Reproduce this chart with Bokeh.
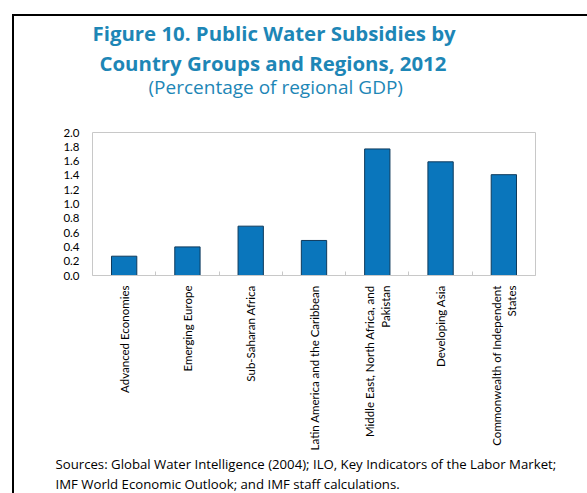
from bokeh.plotting import figure
from bokeh.models import Range1d, FixedTicker, Title, ColumnDataSource
from bokeh.embed import file_html
from bokeh.resources import INLINE
import math

categories = ["Advanced Economies", "Emerging Europe", "Sub-Saharan Africa",
              "Latin America and the Caribbean", "Middle East, North Africa, and\nPakistan",
              "Developing Asia", "Commonwealth of Independent\nStates"]
values = [0.27, 0.40, 0.69, 0.49, 1.77, 1.59, 1.41]
y_ticks = [0.0, 0.2, 0.4, 0.6, 0.8, 1.0, 1.2, 1.4, 1.6, 1.8, 2.0]

title1 = "Figure 10. Public Water Subsidies by"
title2 = "Country Groups and Regions, 2012"
subtitle = "(Percentage of regional GDP)"
source1 = "Sources: Global Water Intelligence (2004); ILO, Key Indicators of the Labor Market;"
source2 = "IMF World Economic Outlook; and IMF staff calculations."

W, H = 587, 493
n = len(categories)
xs = [i + 0.5 for i in range(n)]

border_css = """
:host { position: relative; }
:host::after { content: ""; position: absolute; left: 12px; top: 14px;
  width: 600px; height: 500px; border-left: 2.5px solid black; border-top: 2.5px solid black;
  z-index: 100; pointer-events: none; box-sizing: border-box; }
"""

p = figure(width=W, height=H, output_backend="svg", toolbar_location=None,
           x_range=Range1d(0, n), y_range=Range1d(0, 2.0),
           min_border_left=92, min_border_right=52, min_border_top=132, min_border_bottom=217,
           stylesheets=[border_css])

src = ColumnDataSource(dict(x=xs, top=values))
p.vbar(x="x", top="top", width=0.4, source=src, fill_color="#0a76bc",
       line_color="#0e3a5c", line_width=1)

p.xgrid.visible = False
p.ygrid.visible = False
p.outline_line_color = "#c8c8c8"
p.background_fill_color = "white"
p.border_fill_color = "white"

xa = p.xaxis[0]
xa.ticker = FixedTicker(ticks=xs, minor_ticks=[i for i in range(1, n)])
xa.major_label_overrides = {x: c for x, c in zip(xs, categories)}
xa.major_label_orientation = math.pi / 2
xa.major_tick_line_color = None
xa.major_tick_in = 0
xa.major_tick_out = 0
xa.minor_tick_in = 4
xa.minor_tick_out = 0
xa.minor_tick_line_color = "#c8c8c8"
xa.axis_line_color = "#c8c8c8"
xa.major_label_text_font = "Lato"
xa.major_label_text_font_size = "11.5px"
xa.major_label_text_color = "black"
xa.major_label_standoff = 10

ya = p.yaxis[0]
ya.ticker = FixedTicker(ticks=y_ticks)
ya.major_label_overrides = {t: f"{t:.1f}" for t in y_ticks}
ya.axis_line_color = None
ya.major_tick_line_color = None
ya.minor_tick_line_color = None
ya.major_tick_in = 0
ya.major_tick_out = 0
ya.major_label_text_font = "Lato"
ya.major_label_text_font_size = "11.5px"
ya.major_label_text_color = "black"
ya.major_label_standoff = 13

tcol = "#1d86b6"
p.add_layout(Title(text=" ", text_font="Open Sans", text_font_size="10px", standoff=19), "above")
p.add_layout(Title(text=subtitle, align="left", offset=56, text_font="Open Sans",
                   text_font_size="19px", text_font_style="normal", text_color=tcol,
                   standoff=-4), "above")
p.add_layout(Title(text=title2, align="left", offset=7, text_font="Open Sans",
                   text_font_size="20.4px", text_font_style="bold", text_color=tcol,
                   standoff=-6), "above")
p.add_layout(Title(text=title1, align="left", offset=0, text_font="Open Sans",
                   text_font_size="20.4px", text_font_style="bold", text_color=tcol,
                   standoff=5), "above")

p.add_layout(Title(text=source1, align="left", offset=-37, text_font="Open Sans",
                   text_font_size="13.2px", text_font_style="normal", text_color="black",
                   standoff=-2), "below")
p.add_layout(Title(text=source2, align="left", offset=-37, text_font="Open Sans",
                   text_font_size="13.2px", text_font_style="normal", text_color="black",
                   standoff=2), "below")

open("out.html", "w").write(file_html(p, INLINE))
